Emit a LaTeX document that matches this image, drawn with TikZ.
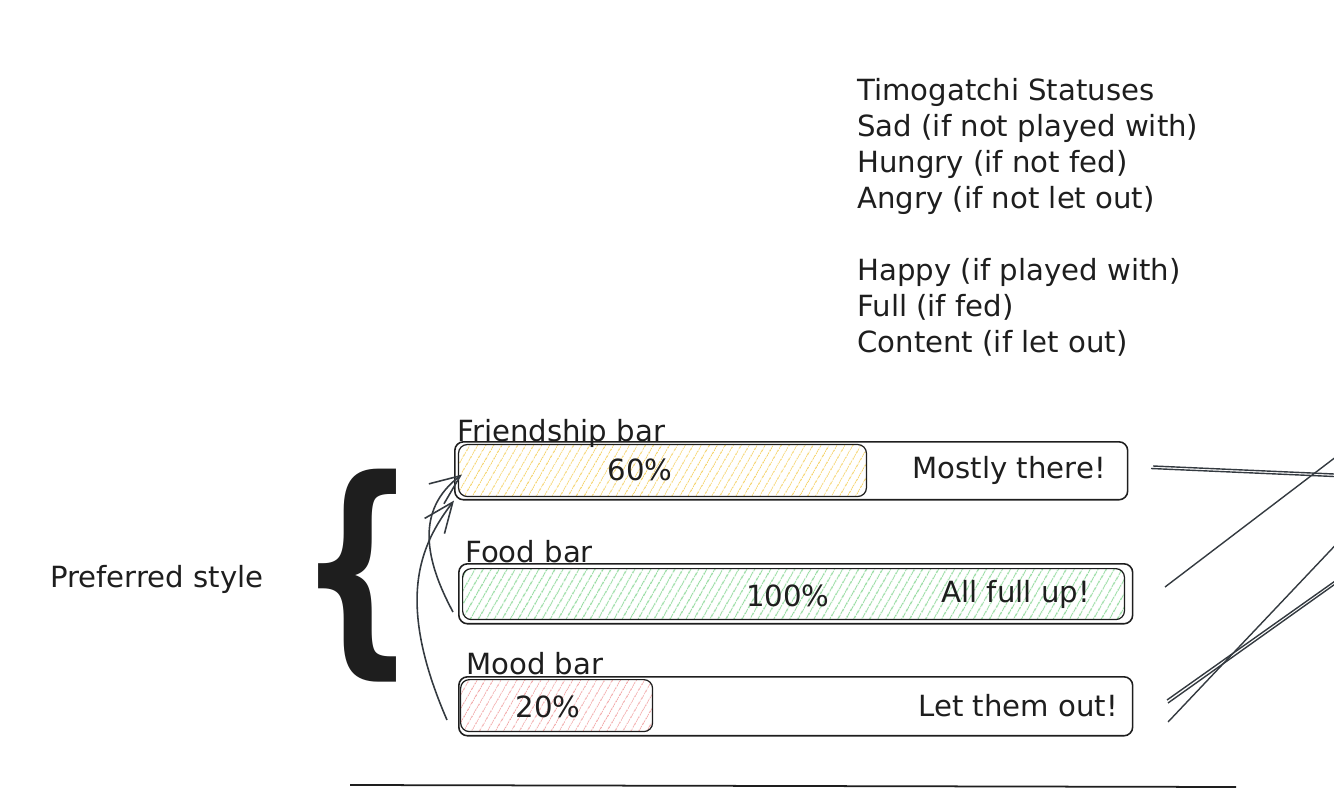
\documentclass[tikz,border=0pt]{standalone}
\usepackage{fontspec}
\setmainfont{DejaVu Sans}
\usetikzlibrary{arrows.meta,patterns.meta}
\definecolor{ink}{HTML}{1E1E1E}
\definecolor{pencil}{HTML}{343A40}
\definecolor{hatchyellow}{HTML}{F5D36A}
\definecolor{hatchgreen}{HTML}{95DBA0}
\definecolor{hatchred}{HTML}{F2A9A9}
\begin{document}
\begin{tikzpicture}[
      x=0.02cm, y=-0.02cm,
      every node/.style={font=\fontsize{16.6}{20.5}\selectfont, text=ink},
      bar/.style={draw=ink, line width=0.9pt, rounded corners=5pt,
        anchor=north west, inner sep=0pt},
      fillbar/.style={bar, line width=0.7pt,
        pattern={Lines[angle=60, distance=4pt, line width=0.6pt]}},
      barlabel/.style={anchor=base west, inner sep=0pt},
      arrow/.style={draw=pencil, line width=0.9pt,
        -{Straight Barb[length=0.6cm, width=0.5cm, line width=0.9pt]}},
      stroke/.style={draw=pencil, line width=0.8pt},
    ]
    \clip (0,0) rectangle (1334,810);

    % Status list
    \node[anchor=north west, align=left, inner sep=0pt] (statuses) at (857,78)
      {Timogatchi Statuses\\ Sad (if not played with)\\ Hungry (if not fed)\\
       Angry (if not let out)\\[20.5pt] Happy (if played with)\\ Full (if fed)\\
       Content (if let out)};

    % Friendship bar
    \node[bar, minimum width=13.46cm, minimum height=1.16cm] (friendBar) at (454,441) {};
    \node[fillbar, pattern color=hatchyellow, minimum width=8.16cm,
      minimum height=1.04cm] (friendFill) at (458,444) {};
    \node[barlabel] (friendLbl) at (457,441) {Friendship bar};
    \node (friendPct) at (640,470) {60\%};
    \node[anchor=east] (friendMsg) at (1112,470) {Mostly there!};

    % Food bar
    \node[bar, minimum width=13.48cm, minimum height=1.2cm] (foodBar) at (458,563) {};
    \node[fillbar, pattern color=hatchgreen, minimum width=13.24cm,
      minimum height=1.02cm] (foodFill) at (462,568) {};
    \node[barlabel] (foodLbl) at (465,562) {Food bar};
    \node (foodPct) at (788,596) {100\%};
    \node[anchor=east] (foodMsg) at (1096,594) {All full up!};

    % Mood bar
    \node[bar, minimum width=13.48cm, minimum height=1.18cm] (moodBar) at (458,676) {};
    \node[fillbar, pattern color=hatchred, minimum width=3.84cm,
      minimum height=1.04cm] (moodFill) at (460,679) {};
    \node[barlabel] (moodLbl) at (466,674) {Mood bar};
    \node (moodPct) at (548,707) {20\%};
    \node[anchor=east] (moodMsg) at (1124,706) {Let them out!};

    % Brace and its caption
    \node[inner sep=0pt] (brace) at (358,576)
      {\resizebox*{2.4cm}{4.26cm}{\bfseries\{}};
    \node[barlabel] (preferred) at (50,587) {Preferred style};

    % Arrows into the friendship bar
    \coordinate (foodTail) at (453,612);
    \coordinate (moodTail) at (447,720);
    \draw[arrow] (foodTail) .. controls (425,560) and (415,510) .. ([shift={(4,4)}]friendFill.west);
    \draw[arrow] (moodTail) .. controls (395,600) and (420,545) .. (friendBar.south west);

    % Loose strokes on the right
    \draw[stroke] (1153,466) -- (1334,474);
    \draw[stroke] (1151,468.5) -- (1334,476.5);
    \draw[stroke] (1165,587) -- (1345,450);
    \draw[stroke] (1168,722) -- (1345,535);
    \draw[stroke] (1167,700) -- (1345,574);
    \draw[stroke] (1168,703) -- (1345,577);

    % Baseline
    \draw[draw=ink, line width=1pt] (350,785) -- (1236,787);
  \end{tikzpicture}
\end{document}
